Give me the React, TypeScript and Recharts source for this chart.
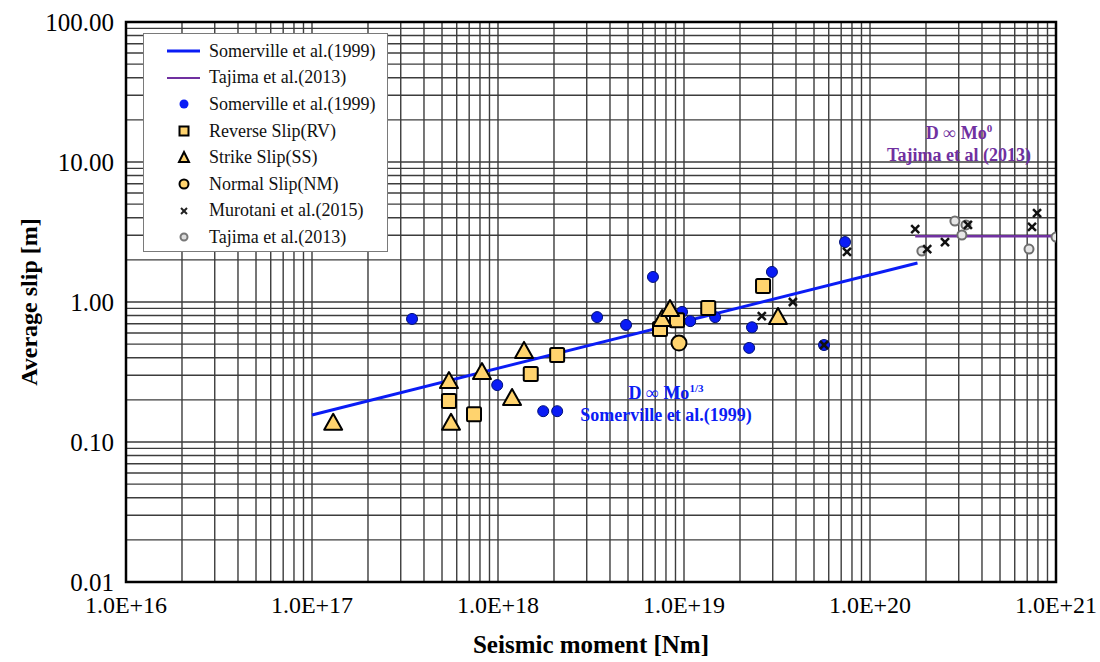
import React from "react";
import {
  CartesianGrid,
  ReferenceArea,
  Scatter,
  ScatterChart,
  XAxis,
  YAxis,
  Label,
} from "recharts";

// axis ticks (log grid: every 1..9 per decade)
const xTicks = [
  1e16, 2e16, 3e16, 4e16, 5e16, 6e16, 7e16, 8e16, 9e16,
  1e17, 2e17, 3e17, 4e17, 5e17, 6e17, 7e17, 8e17, 9e17,
  1e18, 2e18, 3e18, 4e18, 5e18, 6e18, 7e18, 8e18, 9e18,
  1e19, 2e19, 3e19, 4e19, 5e19, 6e19, 7e19, 8e19, 9e19,
  1e20, 2e20, 3e20, 4e20, 5e20, 6e20, 7e20, 8e20, 9e20,
  1e21,
];
const xMajor = [1e16, 1e17, 1e18, 1e19, 1e20, 1e21];
const xMajorLabels = ["1.0E+16", "1.0E+17", "1.0E+18", "1.0E+19", "1.0E+20", "1.0E+21"];

const yTicks = [
  0.01, 0.02, 0.03, 0.04, 0.05, 0.06, 0.07, 0.08, 0.09,
  0.1, 0.2, 0.3, 0.4, 0.5, 0.6, 0.7, 0.8, 0.9,
  1, 2, 3, 4, 5, 6, 7, 8, 9,
  10, 20, 30, 40, 50, 60, 70, 80, 90,
  100,
];
const yMajor = [0.01, 0.1, 1, 10, 100];
const yMajorLabels = ["0.01", "0.10", "1.00", "10.00", "100.00"];

// Somerville et al.(1999) events
const somervilleMo = [3.45e17, 9.9e17, 1.75e18, 2.08e18, 3.41e18, 4.88e18, 6.81e18, 9.76e18, 1.08e19, 1.47e19, 2.32e19, 2.24e19, 2.97e19, 5.66e19, 7.34e19];
const somervilleSlip = [0.757, 0.255, 0.166, 0.166, 0.78, 0.686, 1.51, 0.85, 0.73, 0.78, 0.66, 0.47, 1.64, 0.493, 2.68];

// reverse slip
const rvMo = [5.45e17, 7.43e17, 1.5e18, 2.08e18, 7.43e18, 9.17e18, 1.35e19, 2.66e19];
const rvSlip = [0.196, 0.158, 0.306, 0.418, 0.642, 0.74, 0.906, 1.3];

// strike slip
const ssMo = [1.3e17, 5.45e17, 5.59e17, 8.2e17, 1.19e18, 1.38e18, 7.62e18, 8.41e18, 3.2e19];
const ssSlip = [0.135, 0.268, 0.135, 0.311, 0.203, 0.44, 0.744, 0.876, 0.769];

// normal slip
const nmMo = [9.4e18];
const nmSlip = [0.509];

// Murotani et al.(2015)
const murotaniMo = [2.62e19, 3.85e19, 5.66e19, 7.52e19, 1.75e20, 2.03e20, 2.53e20, 3.36e20, 7.43e20, 7.91e20];
const murotaniSlip = [0.794, 1.0, 0.493, 2.28, 3.32, 2.39, 2.68, 3.55, 3.44, 4.32];

// Tajima et al.(2013)
const tajimaMo = [1.9e20, 2.86e20, 3.28e20, 3.12e20, 7.16e20, 1e21];
const tajimaSlip = [2.31, 3.79, 3.55, 3.01, 2.39, 2.91];

// fitted lines
const somervilleLineMo = [1e17, 1.8e20];
const somervilleLineSlip = [0.156, 1.9];
const tajimaLineMo = [1.75e20, 1e21];
const tajimaLineSlip = [2.95, 2.95];

const zip = (xs: number[], ys: number[]) => xs.map((x, i) => ({ x, y: ys[i] }));

const FONT = "'Liberation Serif', 'Times New Roman', serif";
const YELLOW = "#ffd36e";
const BLUE = "#0a1cf5";
const PURPLE = "#7030a0";

const BlueDot = (p: any) => (
  <circle cx={p.cx} cy={p.cy} r={5.5} fill={BLUE} stroke="#00107a" strokeWidth={1} />
);
const Square = (p: any) => (
  <rect x={p.cx - 7} y={p.cy - 7} width={14} height={14} rx={1.5} fill={YELLOW} stroke="#000" strokeWidth={2} />
);
const Triangle = (p: any) => (
  <polygon
    points={`${p.cx},${p.cy - 10} ${p.cx + 9},${p.cy + 6} ${p.cx - 9},${p.cy + 6}`}
    fill={YELLOW}
    stroke="#000"
    strokeWidth={2}
    strokeLinejoin="round"
  />
);
const BigCircle = (p: any) => (
  <circle cx={p.cx} cy={p.cy} r={7.5} fill={YELLOW} stroke="#000" strokeWidth={2} />
);
const Cross = (p: any) => (
  <g stroke="#111" strokeWidth={2.5}>
    <line x1={p.cx - 4} y1={p.cy - 4} x2={p.cx + 4} y2={p.cy + 4} />
    <line x1={p.cx - 4} y1={p.cy + 4} x2={p.cx + 4} y2={p.cy - 4} />
  </g>
);
const GrayDot = (p: any) => (
  <circle cx={p.cx} cy={p.cy} r={4.5} fill="#e6e6e6" stroke="#6e6e6e" strokeWidth={2} />
);
const NoShape = () => <g />;

const legendItems = [
  { label: "Somerville et al.(1999)", icon: "blueLine" },
  { label: "Tajima et al.(2013)", icon: "purpleLine" },
  { label: "Somerville et al.(1999)", icon: "blueDot" },
  { label: "Reverse Slip(RV)", icon: "square" },
  { label: "Strike Slip(SS)", icon: "triangle" },
  { label: "Normal Slip(NM)", icon: "circle" },
  { label: "Murotani et al.(2015)", icon: "cross" },
  { label: "Tajima et al.(2013)", icon: "gray" },
];

function LegendIcon({ kind }: { kind: string }) {
  return (
    <svg width={40} height={20} style={{ display: "block" }}>
      {kind === "blueLine" && <line x1={3} y1={10} x2={36} y2={10} stroke={BLUE} strokeWidth={3} />}
      {kind === "purpleLine" && <line x1={3} y1={10} x2={36} y2={10} stroke={PURPLE} strokeWidth={2} />}
      {kind === "blueDot" && <circle cx={20} cy={10} r={4.5} fill={BLUE} />}
      {kind === "square" && <rect x={15.5} y={5.5} width={9} height={9} fill={YELLOW} stroke="#000" strokeWidth={2} />}
      {kind === "triangle" && <polygon points="20,4 25,14 15,14" fill={YELLOW} stroke="#000" strokeWidth={2} />}
      {kind === "circle" && <circle cx={20} cy={10} r={4.5} fill={YELLOW} stroke="#000" strokeWidth={2} />}
      {kind === "cross" && (
        <g stroke="#222" strokeWidth={2}>
          <line x1={17} y1={7} x2={23} y2={13} />
          <line x1={17} y1={13} x2={23} y2={7} />
        </g>
      )}
      {kind === "gray" && <circle cx={20} cy={10} r={3.5} fill="#ddd" stroke="#777" strokeWidth={2} />}
    </svg>
  );
}

const xFmt = (v: number) => {
  const i = xMajor.findIndex((m) => Math.abs(m - v) / m < 1e-6);
  return i >= 0 ? xMajorLabels[i] : "";
};
const yFmt = (v: number) => {
  const i = yMajor.findIndex((m) => Math.abs(m - v) / m < 1e-6);
  return i >= 0 ? yMajorLabels[i] : "";
};

export default function App() {
  return (
    <div style={{ position: "absolute", left: 0, top: 0, width: 1100, height: 662, background: "#fff", fontFamily: FONT }}>
      <ScatterChart width={1100} height={662} margin={{ top: 22, right: 44, bottom: 0, left: 0 }}>
        <CartesianGrid stroke="#3c3c3c" strokeWidth={1.4} />
        <XAxis
          type="number"
          dataKey="x"
          scale="log"
          domain={[1e16, 1e21]}
          ticks={xTicks}
          interval={0}
          tickFormatter={xFmt}
          allowDataOverflow
          axisLine={false}
          tickLine={false}
          tickMargin={8}
          height={80}
          tick={{ fontSize: 24, fill: "#000", fontFamily: FONT }}
        >
          <Label
            value="Seismic moment [Nm]"
            position="insideBottom"
            offset={9}
            style={{ fontSize: 25, fontWeight: "bold", fill: "#000", fontFamily: FONT }}
          />
        </XAxis>
        <YAxis
          type="number"
          dataKey="y"
          scale="log"
          domain={[0.01, 100]}
          ticks={yTicks}
          interval={0}
          tickFormatter={yFmt}
          allowDataOverflow
          axisLine={false}
          tickLine={false}
          tickMargin={6}
          width={126}
          tick={{ fontSize: 25, fill: "#000", fontFamily: FONT }}
        >
          <Label
            value="Average slip [m]"
            angle={-90}
            position="insideLeft"
            offset={28}
            style={{ fontSize: 24, fontWeight: "bold", fill: "#000", fontFamily: FONT, textAnchor: "middle" }}
          />
        </YAxis>
        <ReferenceArea x1={1e16} x2={1e21} y1={0.01} y2={100} fill="none" stroke="#000" strokeWidth={2.5} ifOverflow="visible" />
        <Scatter data={zip(somervilleLineMo, somervilleLineSlip)} line={{ stroke: BLUE, strokeWidth: 3 }} shape={NoShape} isAnimationActive={false} />
        <Scatter data={zip(tajimaLineMo, tajimaLineSlip)} line={{ stroke: PURPLE, strokeWidth: 2.5 }} shape={NoShape} isAnimationActive={false} />
        <Scatter data={zip(somervilleMo, somervilleSlip)} shape={BlueDot} isAnimationActive={false} />
        <Scatter data={zip(tajimaMo, tajimaSlip)} shape={GrayDot} isAnimationActive={false} />
        <Scatter data={zip(murotaniMo, murotaniSlip)} shape={Cross} isAnimationActive={false} />
        <Scatter data={zip(rvMo, rvSlip)} shape={Square} isAnimationActive={false} />
        <Scatter data={zip(ssMo, ssSlip)} shape={Triangle} isAnimationActive={false} />
        <Scatter data={zip(nmMo, nmSlip)} shape={BigCircle} isAnimationActive={false} />
      </ScatterChart>

      <div
        style={{
          position: "absolute",
          left: 143,
          top: 33,
          width: 245,
          height: 219,
          boxSizing: "border-box",
          background: "#fff",
          border: "1.5px solid #7a7a7a",
          paddingTop: 4,
        }}
      >
        {legendItems.map((it, i) => (
          <div key={i} style={{ display: "flex", alignItems: "center", height: 26.6, marginLeft: 20 }}>
            <LegendIcon kind={it.icon} />
            <span style={{ fontSize: 18, marginLeft: 5, color: "#111", whiteSpace: "nowrap" }}>{it.label}</span>
          </div>
        ))}
      </div>

      <div style={{ position: "absolute", left: 566, top: 377, width: 200, textAlign: "center", color: BLUE, fontWeight: "bold", fontSize: 18, lineHeight: "22px" }}>
        <div>
          D ∞ Mo<sup style={{ fontSize: 11 }}>1/3</sup>
        </div>
        <div>Somerville et al.(1999)</div>
      </div>
      <div style={{ position: "absolute", left: 859, top: 117, width: 200, textAlign: "center", color: PURPLE, fontWeight: "bold", fontSize: 18, lineHeight: "22px" }}>
        <div>
          D ∞ Mo<sup style={{ fontSize: 11 }}>0</sup>
        </div>
        <div>Tajima et al (2013)</div>
      </div>
    </div>
  );
}
